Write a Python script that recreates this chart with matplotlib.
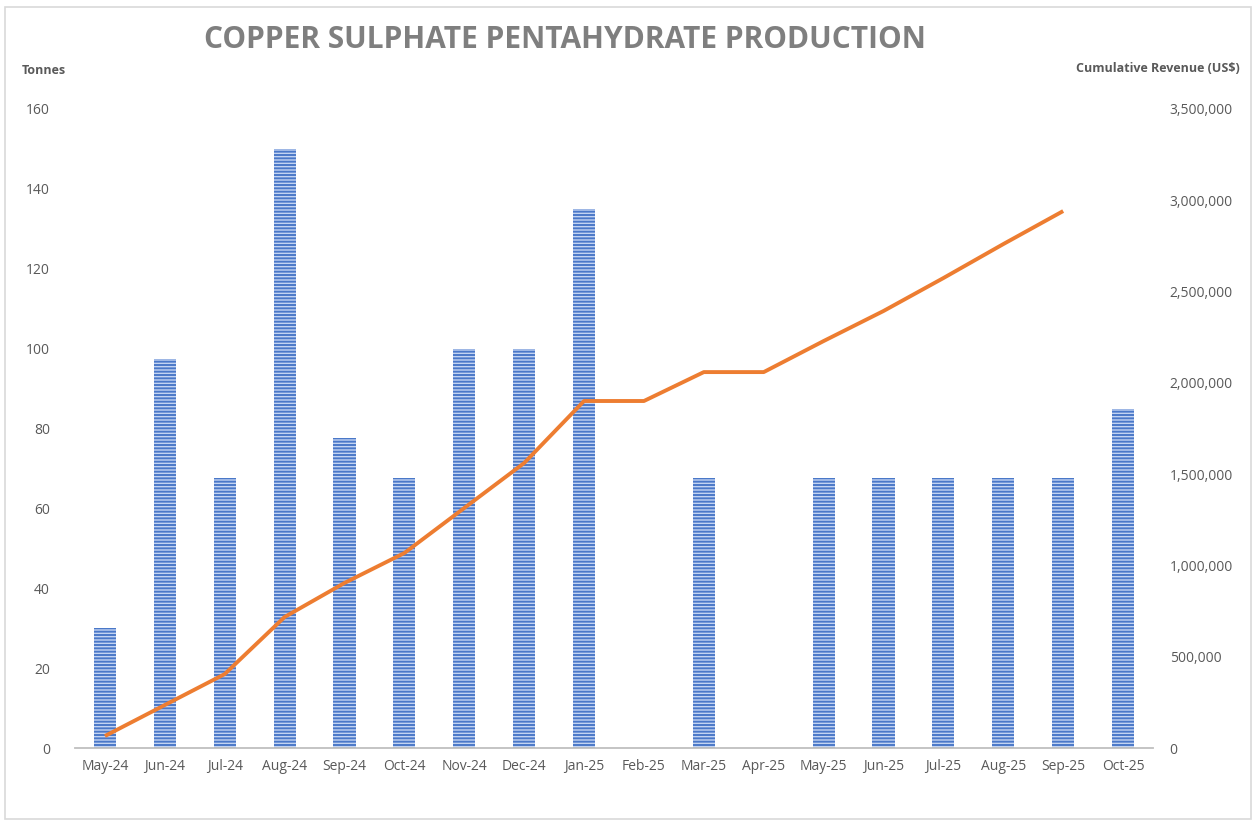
import matplotlib
matplotlib.use("Agg")
import matplotlib.pyplot as plt
from matplotlib.ticker import FuncFormatter, MultipleLocator
from matplotlib.patches import Rectangle

months = ["May-24", "Jun-24", "Jul-24", "Aug-24", "Sep-24", "Oct-24", "Nov-24", "Dec-24",
          "Jan-25", "Feb-25", "Mar-25", "Apr-25", "May-25", "Jun-25", "Jul-25", "Aug-25",
          "Sep-25", "Oct-25"]
tonnes = [30, 97.5, 67.5, 150, 77.5, 67.5, 100, 100, 135, 0, 67.5, 0, 67.5, 67.5, 67.5, 67.5, 67.5, 85]
cum_revenue = [65700, 235500, 405000, 717500, 904000, 1068000, 1314600, 1561000, 1900600,
               1900600, 2059000, 2059000, 2229000, 2393600, 2574000, 2760000, 2941000]

plt.rcParams['font.family'] = ['Open Sans', 'DejaVu Sans']
plt.rcParams['hatch.linewidth'] = 1.4

fig = plt.figure(figsize=(12.53, 8.21), dpi=100)
ax = fig.add_axes([75/1253, (821-748)/821, (1153-75)/1253, (748-109)/821])
ax2 = ax.twinx()

x = list(range(len(months)))
ax.bar(x, tonnes, width=0.37, color='#c3d4f2', edgecolor='#4a78c8', linewidth=0,
       hatch='-----', zorder=2)
ax2.plot(x[:len(cum_revenue)], cum_revenue, color='#ED7D31', linewidth=2.8,
         solid_capstyle='butt', zorder=3)

ax.set_xlim(-0.5, len(months) - 0.5)
ax.set_ylim(0, 160)
ax2.set_ylim(0, 3500000)
ax.yaxis.set_major_locator(MultipleLocator(20))
ax2.yaxis.set_major_locator(MultipleLocator(500000))
ax2.yaxis.set_major_formatter(FuncFormatter(lambda v, p: f"{int(v):,}"))
ax.set_xticks(x)
ax.set_xticklabels(months)

for a in (ax, ax2):
    for s in ['top', 'left', 'right', 'bottom']:
        a.spines[s].set_visible(False)
    a.tick_params(length=0, labelsize=10, labelcolor='#595959')
ax.spines['bottom'].set_visible(True)
ax.spines['bottom'].set_color('#bfbfbf')
ax.spines['bottom'].set_linewidth(1.3)
ax.tick_params(axis='x', pad=8)
ax.tick_params(axis='y', pad=18)
ax2.tick_params(axis='y', pad=12)
ax2.set_zorder(ax.get_zorder() + 1)
ax2.patch.set_visible(False)

fig.text(565/1253, 1 - 40/821, "COPPER SULPHATE PENTAHYDRATE PRODUCTION", ha='center', va='center',
         fontsize=21.5, fontweight='bold', color='#7f7f7f')
fig.text(22/1253, 1 - 70/821, "Tonnes", ha='left', va='center', fontsize=9,
         fontweight='bold', color='#595959')
fig.text(1240/1253, 1 - 68/821, "Cumulative Revenue (US$)", ha='right', va='center', fontsize=9,
         fontweight='bold', color='#595959')

fig.patches.append(Rectangle((5/1253, 0.002), 1 - 7/1253, 1 - 7/821 - 0.002, transform=fig.transFigure,
                             fill=False, edgecolor='#d9d9d9', linewidth=1.2))

fig.savefig("out.png", dpi=100, facecolor='white')
